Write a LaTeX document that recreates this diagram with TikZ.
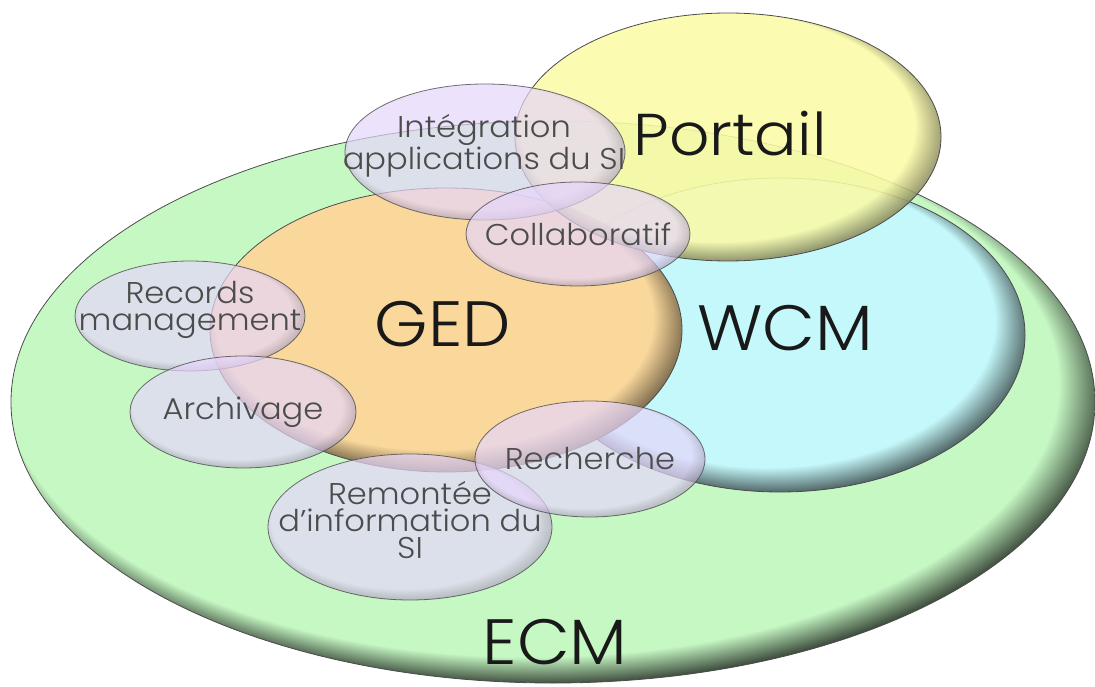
\documentclass[tikz,border=0pt]{standalone}
\usepackage{fontspec}
\setmainfont{Poppins Light}[FakeStretch=1.07]
\usepackage{xcolor}
\usepackage{tikz}
\usetikzlibrary{shapes.geometric}

\definecolor{ecmgreen}{RGB}{198,248,196}
\definecolor{gedorange}{RGB}{250,216,156}
\definecolor{wcmcyan}{RGB}{196,248,250}
\definecolor{portyellow}{RGB}{250,250,166}
\definecolor{lilac}{RGB}{230,214,251}
\colorlet{bevmain}{white}
\colorlet{bevdark}{black}

% radial shadings with a dark rim at the lower right
\pgfdeclareradialshading[bevmain,bevdark]{bevel}{\pgfpoint{-7.5bp}{12.5bp}}{%
  color(0bp)=(bevmain); color(23.2bp)=(bevmain); color(26.5bp)=(bevdark); color(28bp)=(bevdark)}
\pgfdeclareradialshading[bevmain,bevdark]{bevelthin}{\pgfpoint{-7.5bp}{12.5bp}}{%
  color(0bp)=(bevmain); color(24.3bp)=(bevmain); color(26.3bp)=(bevdark); color(28bp)=(bevdark)}

\begin{document}
\begin{tikzpicture}[x=1pt,y=-1pt,
    zone/.style 2 args={shape=ellipse, inner sep=0pt, draw=black!70, line width=.8pt,
      /utils/exec={\colorlet{bevmain}{#1}\colorlet{bevdark}{#1!#2!black}}, shading=bevel},
    sub/.style={zone={lilac}{70}, fill opacity=.7, draw opacity=.8},
    bigtxt/.style={font=\fontsize{64}{64}\selectfont, text=black!90, inner sep=1pt, text depth=0pt},
    subtxt/.style={font=\fontsize{30}{27}\selectfont, text=black!70, align=center}]
			\useasboundingbox (0,0) rectangle (1095,687);

			%% main zones
			\node[zone={ecmgreen}{18}, shading=bevelthin, minimum width=1084pt, minimum height=562pt] (ecm) at (553,402) {};
			\node[zone={wcmcyan}{30}, minimum width=490pt, minimum height=314pt] (wcm) at (780,335) {};
			\node[zone={gedorange}{40}, minimum width=472pt, minimum height=284pt] (ged) at (446,330) {};
			\node[zone={portyellow}{45}, fill opacity=.88, minimum width=426pt, minimum height=248pt] (port) at (728,137) {};

			%% small zones
			\node[sub, minimum width=280pt, minimum height=136pt] (integ) at (485,152) {};
			\node[sub, minimum width=224pt, minimum height=104pt] (collab) at (578,234) {};
			\node[sub, minimum width=230pt, minimum height=110pt] (records) at (190,316) {};
			\node[sub, minimum width=226pt, minimum height=112pt] (archiv) at (243,412) {};
			\node[sub, minimum width=284pt, minimum height=146pt] (remont) at (410,527) {};
			\node[sub, minimum width=230pt, minimum height=116pt] (recherche) at (590,459) {};

			%% labels
			\node[bigtxt] (ecmtxt) at (555,642) {ECM};
			\node[bigtxt] (wcmtxt) at (785,328) {WCM};
			\node[bigtxt] (gedtxt) at (443,324) {GED};
			\node[bigtxt, font=\fontsize{59}{59}\selectfont] (porttxt) at (730,133) {Portail};
			\node[subtxt] (integtxt) at (484,146) {Intégration\\applications du SI};
			\node[subtxt] (collabtxt) at (collab.center) {Collaboratif};
			\node[subtxt] (recordstxt) at (190,310) {Records\\management};
			\node[subtxt] (archivtxt) at (archiv.center) {Archivage};
			\node[subtxt] (remonttxt) at (410,520) {Remontée\\d'information du\\SI};
			\node[subtxt] (recherchetxt) at (recherche.center) {Recherche};
		\end{tikzpicture}
\end{document}
